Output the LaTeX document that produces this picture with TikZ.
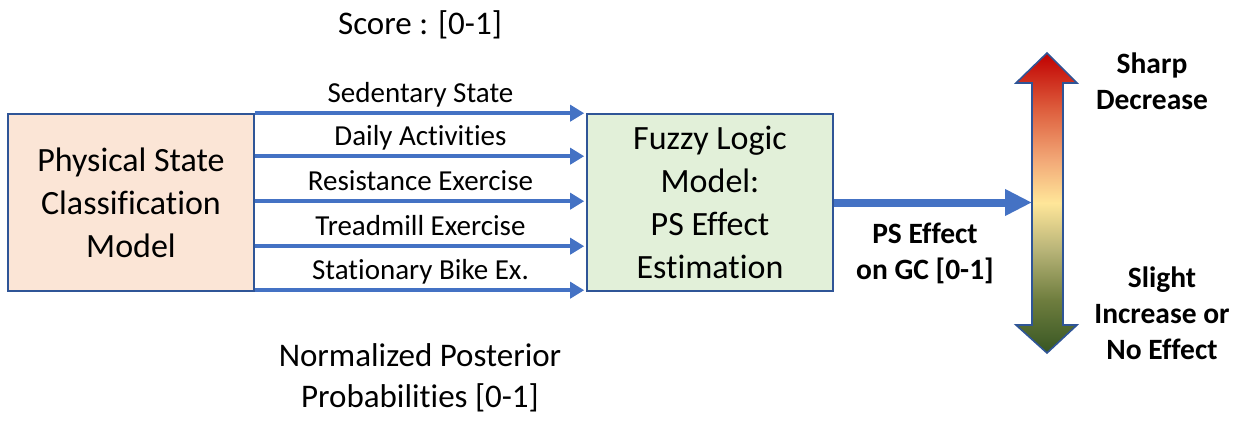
\documentclass[tikz,border=0pt]{standalone}
\usepackage{fontspec}
\setmainfont{Carlito}[Ligatures=NoCommon]
\usetikzlibrary{arrows.meta}
\definecolor{peach}{HTML}{FBE5D6}
\definecolor{mint}{HTML}{E2F0D9}
\definecolor{arrblue}{HTML}{4472C4}
\definecolor{edgeblue}{HTML}{2F5597}
\definecolor{gcA}{HTML}{375623}
\definecolor{gcB}{HTML}{6E7D3E}
\definecolor{gcC}{HTML}{B8B478}
\definecolor{gcD}{HTML}{FFE699}
\definecolor{gcE}{HTML}{F2A877}
\definecolor{gcF}{HTML}{DE5F3E}
\definecolor{gcG}{HTML}{C00000}
\pgfdeclareverticalshading{gcshade}{100bp}{color(0bp)=(gcA); color(25bp)=(gcA); color(33.8bp)=(gcB); color(42.2bp)=(gcC); color(50bp)=(gcD); color(57.2bp)=(gcE); color(65.5bp)=(gcF); color(75bp)=(gcG); color(100bp)=(gcG)}
\tikzset{
  box/.style={draw=edgeblue, line width=1.6pt, minimum width=246pt, minimum height=177pt,
    inner sep=0pt, align=center, font=\fontsize{34}{43}\selectfont},
  inarrow/.style={draw=arrblue, line width=3.5pt, -{Triangle[length=14pt,width=16pt]}, shorten >=2pt},
  bigarrow/.style={draw=arrblue, line width=8pt, -{Triangle[length=27pt,width=25pt]}},
  lbl/.style={midway, anchor=base, yshift=11pt, text=black, font=\fontsize{29}{35}\selectfont, inner sep=0pt},
  plain/.style={anchor=base, inner sep=0pt, font=\fontsize{33}{41}\selectfont},
  boldlbl/.style={align=center, inner sep=0pt, font=\bfseries\fontsize{29.5}{36}\selectfont}
}
\begin{document}
\begin{tikzpicture}[x=1pt,y=-1pt]
\useasboundingbox (0,0) rectangle (1249,422);
\node[plain] (score) at (420,35) {Score : [0-1]};
\node[plain] (norm1) at (420,366) {Normalized Posterior};
\node[plain] (norm2) at (420,407) {Probabilities [0-1]};
\node[box, fill=peach] (L) at (131,202.5) {Physical State\\Classification\\Model};
\node[box, fill=mint] (M) at (710,202.5) {Fuzzy Logic\\Model:\\PS Effect\\Estimation};
\foreach \dy/\t in {0/Sedentary State, 43/Daily Activities, 88/Resistance Exercise, 133/Treadmill Exercise, 177/Stationary Bike Ex.}
  \draw[inarrow] ([yshift=-\dy pt]L.north east) -- node[lbl] {\t} ([yshift=-\dy pt]M.north west);
\path[shade, shading=gcshade, draw=edgeblue, line width=1.6pt, line join=miter]
  (1047,53) -- (1077,83) -- (1063,83) -- (1063,325) -- (1077,325) -- (1047,353)
  -- (1016,325) -- (1032,325) -- (1032,83) -- (1016,83) -- cycle;
\coordinate (T) at (1032,202.5);
\draw[bigarrow] (M.east) -- (T);
\node[boldlbl] (pse) at (925,253) {PS Effect\\on GC [0-1]};
\node[boldlbl] (sharp) at (1152,81) {Sharp\\Decrease};
\node[boldlbl] (slight) at (1162,313) {Slight\\Increase or\\No Effect};
\end{tikzpicture}
\end{document}
